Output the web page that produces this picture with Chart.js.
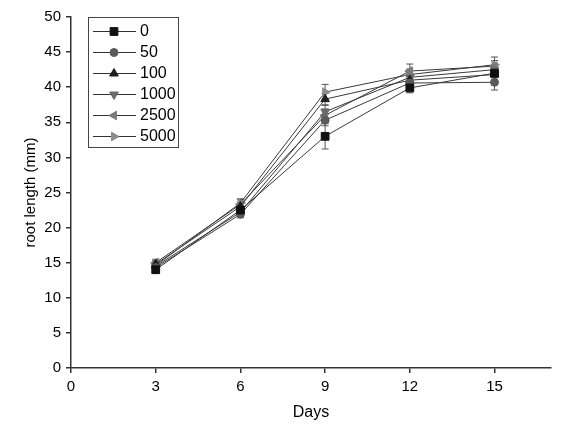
<!DOCTYPE html>
<html>
<head>
<meta charset="utf-8">
<script src="https://cdn.jsdelivr.net/npm/chart.js@4/dist/chart.umd.min.js"></script>
<style>
html,body{margin:0;padding:0;background:#fff;}
#wrap{width:577px;height:434px;position:relative;}
</style>
</head>
<body>
<div id="wrap"><canvas id="c" width="577" height="434"></canvas></div>
<script>
const days = [3, 6, 9, 12, 15];
const seriesNames = ['0', '50', '100', '1000', '2500', '5000'];
const s0    = [14.0, 22.5, 33.0, 39.9, 42.0];
const s50   = [14.3, 21.9, 35.3, 40.6, 40.7];
const s100  = [14.8, 23.0, 38.3, 41.0, 41.8];
const s1000 = [14.5, 22.2, 36.5, 41.4, 42.5];
const s2500 = [15.0, 23.3, 36.0, 42.3, 43.0];
const s5000 = [14.6, 23.5, 39.3, 41.8, 43.2];
const e0    = [0.5, 0.6, 1.8, 0.7, 0.6];
const e50   = [0.4, 0.5, 0.8, 0.6, 1.1];
const e100  = [0.5, 0.6, 0.8, 0.7, 0.7];
const e1000 = [0.4, 0.6, 0.9, 0.6, 0.7];
const e2500 = [0.5, 0.7, 0.9, 1.0, 0.8];
const e5000 = [0.5, 0.6, 1.1, 0.8, 1.1];
const yTicks = [0, 5, 10, 15, 20, 25, 30, 35, 40, 45, 50];
const xTicks = [0, 3, 6, 9, 12, 15];

const values = [s0, s50, s100, s1000, s2500, s5000];
const errors = [e0, e50, e100, e1000, e2500, e5000];
const styles = [
  {ps:'rect', rot:0, r:5.5, c:'#111111'},
  {ps:'circle', rot:0, r:4, c:'#5a5a5a'},
  {ps:'triangle', rot:0, r:5, c:'#1e1e1e'},
  {ps:'triangle', rot:180, r:5, c:'#6a6a6a'},
  {ps:'triangle', rot:270, r:5, c:'#7a7a7a'},
  {ps:'triangle', rot:90, r:5, c:'#8c8c8c'}
];
const FONT = '"Liberation Sans", Arial, sans-serif';

const datasets = seriesNames.map((n, i) => ({
  label: n,
  data: days.map((d, j) => ({x: d, y: values[i][j]})),
  errs: errors[i],
  borderColor: '#3a3a3a',
  borderWidth: 1,
  pointStyle: styles[i].ps,
  rotation: styles[i].rot,
  pointRadius: styles[i].r,
  pointBackgroundColor: styles[i].c,
  pointBorderColor: styles[i].c,
  pointBorderWidth: 1,
  tension: 0,
  fill: false
}));

const errorBars = {
  id: 'errorBars',
  beforeDatasetsDraw(chart) {
    const ctx = chart.ctx, xs = chart.scales.x, ys = chart.scales.y;
    ctx.save();
    ctx.strokeStyle = '#555';
    ctx.lineWidth = 1;
    chart.data.datasets.forEach(ds => {
      ds.data.forEach((p, j) => {
        const e = ds.errs[j];
        const px = xs.getPixelForValue(p.x);
        const t = ys.getPixelForValue(p.y + e), b = ys.getPixelForValue(p.y - e);
        ctx.beginPath();
        ctx.moveTo(px, t); ctx.lineTo(px, b);
        ctx.moveTo(px - 3.5, t); ctx.lineTo(px + 3.5, t);
        ctx.moveTo(px - 3.5, b); ctx.lineTo(px + 3.5, b);
        ctx.stroke();
      });
    });
    ctx.restore();
  }
};

const boxLegend = {
  id: 'boxLegend',
  afterDraw(chart) {
    const ctx = chart.ctx;
    const x0 = 88, y0 = 17, w = 90, h = 130;
    ctx.save();
    ctx.strokeStyle = '#444';
    ctx.lineWidth = 1;
    ctx.strokeRect(x0 + 0.5, y0 + 0.5, w, h);
    chart.data.datasets.forEach((ds, i) => {
      const y = 31 + i * 21;
      ctx.strokeStyle = '#333';
      ctx.lineWidth = 1;
      ctx.beginPath();
      ctx.moveTo(93, y + 0.5); ctx.lineTo(136, y + 0.5);
      ctx.stroke();
      ctx.fillStyle = styles[i].c;
      ctx.strokeStyle = styles[i].c;
      Chart.helpers.drawPoint(ctx, {pointStyle: styles[i].ps, rotation: styles[i].rot, radius: styles[i].r, borderWidth: 1}, 114, y + 0.5);
      ctx.fillStyle = '#000';
      ctx.font = '16px ' + FONT;
      ctx.textBaseline = 'middle';
      ctx.textAlign = 'left';
      ctx.fillText(ds.label, 140, y + 1);
    });
    ctx.restore();
  }
};

new Chart(document.getElementById('c'), {
  type: 'line',
  data: { datasets },
  options: {
    responsive: false,
    animation: false,
    layout: { padding: { top: 17, right: 26, left: 0, bottom: 0 } },
    plugins: { legend: { display: false }, tooltip: { enabled: false } },
    scales: {
      x: {
        type: 'linear',
        min: 0, max: 17,
        afterBuildTicks(s) { s.ticks = xTicks.map(v => ({value: v})); },
        afterFit(s) { s.height = 66; },
        grid: { drawOnChartArea: false, drawTicks: true, tickLength: 5, color: '#333', lineWidth: 1.5 },
        border: { display: true, color: '#333', width: 1.5 },
        ticks: { color: '#000', font: { family: FONT, size: 15 }, padding: 5, maxRotation: 0 },
        title: { display: true, text: 'Days', color: '#000', font: { family: FONT, size: 16 }, padding: { top: 12, bottom: 12 } }
      },
      y: {
        type: 'linear',
        min: 0, max: 50,
        afterBuildTicks(s) { s.ticks = yTicks.map(v => ({value: v})); },
        afterFit(s) { s.width = 71; },
        grid: { drawOnChartArea: false, drawTicks: true, tickLength: 5, color: '#333', lineWidth: 1.5 },
        border: { display: true, color: '#333', width: 1.5 },
        ticks: { color: '#000', font: { family: FONT, size: 15 }, padding: 5 },
        title: { display: true, text: 'root length (mm)', color: '#000', font: { family: FONT, size: 15 }, padding: { top: 22, bottom: 4 } }
      }
    }
  },
  plugins: [errorBars, boxLegend]
});
</script>
</body>
</html>
